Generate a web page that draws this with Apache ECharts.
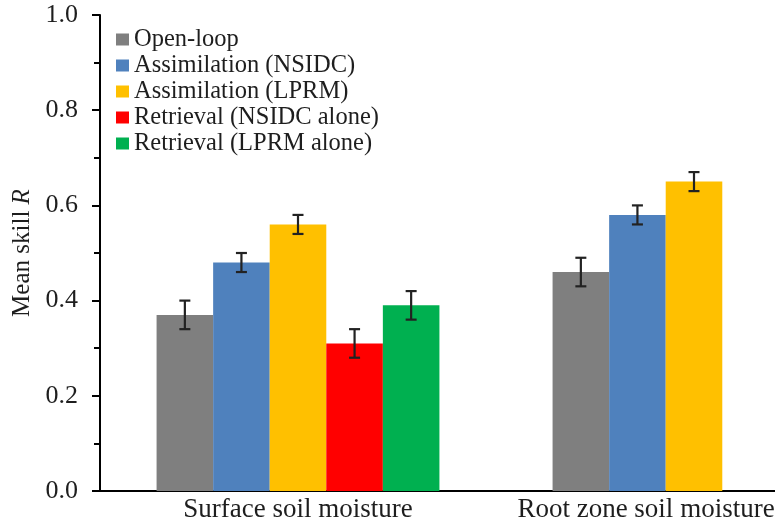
<!DOCTYPE html>
<html>
<head>
<meta charset="utf-8">
<script src="https://cdn.jsdelivr.net/npm/echarts@6/dist/echarts.min.js"></script>
<style>
html,body{margin:0;padding:0;background:#fff;}
#chart{width:775px;height:525px;}
</style>
</head>
<body>
<div id="chart"></div>
<script>
const categories = ['Surface soil moisture', 'Root zone soil moisture'];
const seriesNames = ['Open-loop', 'Assimilation (NSIDC)', 'Assimilation (LPRM)', 'Retrieval (NSIDC alone)', 'Retrieval (LPRM alone)'];
const openLoop = [0.37, 0.46];
const assimNSIDC = [0.48, 0.58];
const assimLPRM = [0.56, 0.65];
const retrNSIDC = [0.31, null];
const retrLPRM = [0.39, null];
const openLoopErr = [0.03, 0.03];
const assimNSIDCErr = [0.02, 0.02];
const assimLPRMErr = [0.02, 0.02];
const retrNSIDCErr = [0.03, null];
const retrLPRMErr = [0.03, null];
const colors = ['#7F7F7F', '#4F81BD', '#FFC000', '#FF0000', '#00B050'];
const yTicks = [0, 0.2, 0.4, 0.6, 0.8, 1.0];

const values = [openLoop, assimNSIDC, assimLPRM, retrNSIDC, retrLPRM];
const errs = [openLoopErr, assimNSIDCErr, assimLPRMErr, retrNSIDCErr, retrLPRMErr];
const FONT = 'Liberation Serif';
const TXT = '#1e1e1e';

const errData = [];
values.forEach((arr, s) => {
  arr.forEach((v, c) => {
    if (v !== null && errs[s][c] !== null) {
      errData.push([c, v - errs[s][c], v + errs[s][c], s]);
    }
  });
});

const chart = echarts.init(document.getElementById('chart'));
const series = seriesNames.map((name, i) => ({
  name: name,
  type: 'bar',
  data: values[i],
  itemStyle: { color: colors[i] },
  barGap: '0%',
  barCategoryGap: (200 / 7) + '%'
}));
series.push({
  type: 'custom',
  name: 'err',
  data: errData,
  encode: { x: 0, y: [1, 2] },
  z: 10,
  renderItem: function (params, api) {
    const c = api.value(0);
    const band = api.size([1, 0])[0];
    const barW = band / 7;
    const base = api.coord([c, 0]);
    const x = base[0] + (api.value(3) - 2) * barW;
    const yLo = api.coord([c, api.value(1)])[1];
    const yHi = api.coord([c, api.value(2)])[1];
    const hw = 5.5;
    const st = { stroke: '#222', lineWidth: 2.2 };
    return {
      type: 'group',
      children: [
        { type: 'line', shape: { x1: x, y1: yLo, x2: x, y2: yHi }, style: st },
        { type: 'line', shape: { x1: x - hw, y1: yLo, x2: x + hw, y2: yLo }, style: st },
        { type: 'line', shape: { x1: x - hw, y1: yHi, x2: x + hw, y2: yHi }, style: st }
      ]
    };
  }
});

chart.setOption({
  animation: false,
  backgroundColor: '#fff',
  grid: { left: 100, top: 15, width: 792, height: 476, containLabel: false, outerBoundsMode: 'none' },
  legend: {
    data: seriesNames,
    orient: 'vertical',
    left: 116,
    top: 27,
    padding: 0,
    itemGap: 1,
    itemWidth: 13,
    itemHeight: 12,
    icon: 'rect',
    selectedMode: false,
    textStyle: { fontFamily: FONT, fontSize: 24.5, color: TXT }
  },
  xAxis: {
    type: 'category',
    data: categories,
    axisLine: { lineStyle: { color: '#000', width: 2 } },
    axisTick: { show: false },
    axisLabel: {
      interval: 0,
      hideOverlap: false,
      fontFamily: FONT, fontSize: 27, color: TXT, margin: 5,
      formatter: function (v, i) { return i === 1 ? '{r|' + v + '}' : v; },
      rich: { r: { fontFamily: FONT, fontSize: 27, color: TXT, padding: [0, 96, 0, 0] } }
    }
  },
  yAxis: {
    type: 'value',
    min: yTicks[0],
    max: yTicks[yTicks.length - 1],
    interval: 0.2,
    name: 'Mean skill {i|R}',
    nameLocation: 'middle',
    nameGap: 60,
    nameTextStyle: {
      fontFamily: FONT, fontSize: 25, color: TXT,
      rich: { i: { fontFamily: FONT, fontSize: 25, fontStyle: 'italic', color: TXT } }
    },
    axisLine: { show: true, lineStyle: { color: '#000', width: 2 } },
    axisTick: { show: true, inside: false, length: 8, lineStyle: { color: '#000', width: 2 } },
    minorTick: { show: true, splitNumber: 2, length: 6, lineStyle: { color: '#000', width: 2 } },
    splitLine: { show: false },
    axisLabel: {
      fontFamily: FONT, fontSize: 26, color: TXT, margin: 22,
      formatter: function (v) { return v.toFixed(1); }
    }
  },
  series: series
});
</script>
</body>
</html>
